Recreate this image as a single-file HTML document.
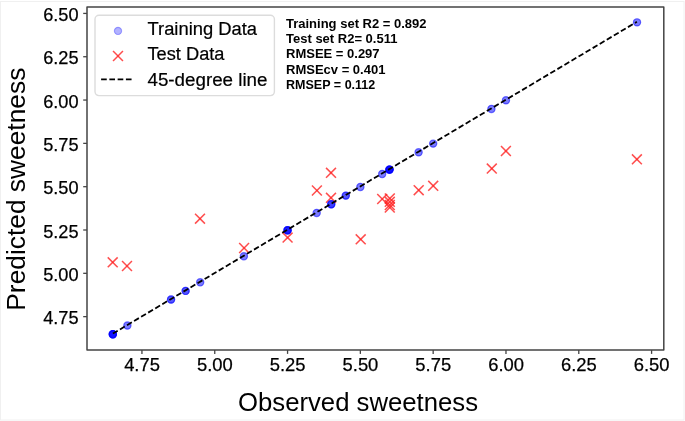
<!DOCTYPE html>
<html><head><meta charset="utf-8"><style>
html,body{margin:0;padding:0;background:#fff;}
body{width:685px;height:421px;overflow:hidden;position:relative;}
svg{position:absolute;left:0;top:0;will-change:transform;}
text{font-family:"Liberation Sans",sans-serif;}
</style></head><body>
<svg width="685" height="421" viewBox="0 0 685 421">
<rect x="0" y="0" width="685" height="421" fill="#fff"/>
<rect x="0.5" y="1.5" width="683.5" height="418.5" fill="none" stroke="#f0f0f0" stroke-width="1"/>

<g stroke="#ff2020" stroke-opacity="0.8" stroke-width="1.5" fill="none">
<path d="M107.75 257.35L117.65 267.25"/><path d="M107.75 267.25L117.65 257.35"/>
<path d="M122.05 261.05L131.95 270.95"/><path d="M122.05 270.95L131.95 261.05"/>
<path d="M195.05 213.75L204.95 223.65"/><path d="M195.05 223.65L204.95 213.75"/>
<path d="M239.15 243.05L249.05 252.95"/><path d="M239.15 252.95L249.05 243.05"/>
<path d="M282.65 232.65L292.55 242.55"/><path d="M282.65 242.55L292.55 232.65"/>
<path d="M311.95 185.55L321.85 195.45"/><path d="M311.95 195.45L321.85 185.55"/>
<path d="M326.05 167.85L335.95 177.75"/><path d="M326.05 177.75L335.95 167.85"/>
<path d="M326.05 192.85L335.95 202.75"/><path d="M326.05 202.75L335.95 192.85"/>
<path d="M355.75 234.35L365.65 244.25"/><path d="M355.75 244.25L365.65 234.35"/>
<path d="M377.25 194.05L387.15 203.95"/><path d="M377.25 203.95L387.15 194.05"/>
<path d="M384.85 193.45L394.75 203.35"/><path d="M384.85 203.35L394.75 193.45"/>
<path d="M384.85 196.85L394.75 206.75"/><path d="M384.85 206.75L394.75 196.85"/>
<path d="M384.85 200.05L394.75 209.95"/><path d="M384.85 209.95L394.75 200.05"/>
<path d="M384.85 202.55L394.75 212.45"/><path d="M384.85 212.45L394.75 202.55"/>
<path d="M413.75 185.25L423.65 195.15"/><path d="M413.75 195.15L423.65 185.25"/>
<path d="M428.25 180.85L438.15 190.75"/><path d="M428.25 190.75L438.15 180.85"/>
<path d="M486.85 163.65L496.75 173.55"/><path d="M486.85 173.55L496.75 163.65"/>
<path d="M500.95 146.05L510.85 155.95"/><path d="M500.95 155.95L510.85 146.05"/>
<path d="M631.95 154.35L641.85 164.25"/><path d="M631.95 164.25L641.85 154.35"/>
</g>
<g fill="#0000ff" fill-opacity="0.3" stroke="#0000ff" stroke-opacity="0.3" stroke-width="1.2">
<circle cx="112.82" cy="334.22" r="3.6"/>
<circle cx="112.82" cy="334.22" r="3.6"/>
<circle cx="112.82" cy="334.22" r="3.6"/>
<circle cx="112.82" cy="334.22" r="3.6"/>
<circle cx="112.82" cy="334.22" r="3.6"/>
<circle cx="112.82" cy="334.22" r="3.6"/>
<circle cx="112.82" cy="334.22" r="3.6"/>
<circle cx="127.38" cy="325.55" r="3.6"/>
<circle cx="127.38" cy="325.55" r="3.6"/>
<circle cx="171.06" cy="299.56" r="3.6"/>
<circle cx="171.06" cy="299.56" r="3.6"/>
<circle cx="171.06" cy="299.56" r="3.6"/>
<circle cx="185.62" cy="290.90" r="3.6"/>
<circle cx="185.62" cy="290.90" r="3.6"/>
<circle cx="185.62" cy="290.90" r="3.6"/>
<circle cx="200.19" cy="282.24" r="3.6"/>
<circle cx="200.19" cy="282.24" r="3.6"/>
<circle cx="243.87" cy="256.25" r="3.6"/>
<circle cx="243.87" cy="256.25" r="3.6"/>
<circle cx="287.56" cy="230.25" r="3.6"/>
<circle cx="287.56" cy="230.25" r="3.6"/>
<circle cx="287.56" cy="230.25" r="3.6"/>
<circle cx="287.56" cy="230.25" r="3.6"/>
<circle cx="287.56" cy="230.25" r="3.6"/>
<circle cx="287.56" cy="230.25" r="3.6"/>
<circle cx="316.68" cy="212.93" r="3.6"/>
<circle cx="316.68" cy="212.93" r="3.6"/>
<circle cx="331.24" cy="204.26" r="3.6"/>
<circle cx="331.24" cy="204.26" r="3.6"/>
<circle cx="331.24" cy="204.26" r="3.6"/>
<circle cx="331.24" cy="204.26" r="3.6"/>
<circle cx="345.80" cy="195.60" r="3.6"/>
<circle cx="345.80" cy="195.60" r="3.6"/>
<circle cx="345.80" cy="195.60" r="3.6"/>
<circle cx="360.36" cy="186.94" r="3.6"/>
<circle cx="360.36" cy="186.94" r="3.6"/>
<circle cx="382.20" cy="173.94" r="3.6"/>
<circle cx="382.20" cy="173.94" r="3.6"/>
<circle cx="389.49" cy="169.61" r="3.6"/>
<circle cx="389.49" cy="169.61" r="3.6"/>
<circle cx="389.49" cy="169.61" r="3.6"/>
<circle cx="389.49" cy="169.61" r="3.6"/>
<circle cx="389.49" cy="169.61" r="3.6"/>
<circle cx="389.49" cy="169.61" r="3.6"/>
<circle cx="389.49" cy="169.61" r="3.6"/>
<circle cx="389.49" cy="169.61" r="3.6"/>
<circle cx="418.61" cy="152.28" r="3.6"/>
<circle cx="418.61" cy="152.28" r="3.6"/>
<circle cx="433.17" cy="143.62" r="3.6"/>
<circle cx="433.17" cy="143.62" r="3.6"/>
<circle cx="491.42" cy="108.97" r="3.6"/>
<circle cx="491.42" cy="108.97" r="3.6"/>
<circle cx="505.98" cy="100.30" r="3.6"/>
<circle cx="505.98" cy="100.30" r="3.6"/>
<circle cx="637.03" cy="22.33" r="3.6"/>
<circle cx="637.03" cy="22.33" r="3.6"/>
</g>
<line x1="112.9" y1="333.6" x2="636.9" y2="21.8" stroke="#000" stroke-width="1.8" stroke-dasharray="5.6 2.61"/>
<rect x="87.0" y="7.1" width="576.80" height="343.00" fill="none" stroke="#444" stroke-width="1.5" stroke-linejoin="round"/>
<g stroke="#444" stroke-width="1.3">
<line x1="141.94" y1="350.1" x2="141.94" y2="353.90"/>
<line x1="83.20" y1="316.64" x2="87.0" y2="316.64"/>
<line x1="214.75" y1="350.1" x2="214.75" y2="353.90"/>
<line x1="83.20" y1="273.32" x2="87.0" y2="273.32"/>
<line x1="287.56" y1="350.1" x2="287.56" y2="353.90"/>
<line x1="83.20" y1="230.00" x2="87.0" y2="230.00"/>
<line x1="360.36" y1="350.1" x2="360.36" y2="353.90"/>
<line x1="83.20" y1="186.69" x2="87.0" y2="186.69"/>
<line x1="433.17" y1="350.1" x2="433.17" y2="353.90"/>
<line x1="83.20" y1="143.37" x2="87.0" y2="143.37"/>
<line x1="505.98" y1="350.1" x2="505.98" y2="353.90"/>
<line x1="83.20" y1="100.05" x2="87.0" y2="100.05"/>
<line x1="578.79" y1="350.1" x2="578.79" y2="353.90"/>
<line x1="83.20" y1="56.73" x2="87.0" y2="56.73"/>
<line x1="651.59" y1="350.1" x2="651.59" y2="353.90"/>
<line x1="83.20" y1="13.42" x2="87.0" y2="13.42"/>
</g>
<g font-size="18.6" fill="#000" stroke="#000" stroke-width="0.25">
<text x="142.04" y="371" text-anchor="middle" textLength="35.8" lengthAdjust="spacingAndGlyphs">4.75</text>
<text x="78.6" y="324.19" text-anchor="end" textLength="35.4" lengthAdjust="spacingAndGlyphs">4.75</text>
<text x="214.85" y="371" text-anchor="middle" textLength="35.8" lengthAdjust="spacingAndGlyphs">5.00</text>
<text x="78.6" y="280.87" text-anchor="end" textLength="35.4" lengthAdjust="spacingAndGlyphs">5.00</text>
<text x="287.66" y="371" text-anchor="middle" textLength="35.8" lengthAdjust="spacingAndGlyphs">5.25</text>
<text x="78.6" y="237.56" text-anchor="end" textLength="35.4" lengthAdjust="spacingAndGlyphs">5.25</text>
<text x="360.46" y="371" text-anchor="middle" textLength="35.8" lengthAdjust="spacingAndGlyphs">5.50</text>
<text x="78.6" y="194.24" text-anchor="end" textLength="35.4" lengthAdjust="spacingAndGlyphs">5.50</text>
<text x="433.27" y="371" text-anchor="middle" textLength="35.8" lengthAdjust="spacingAndGlyphs">5.75</text>
<text x="78.6" y="150.92" text-anchor="end" textLength="35.4" lengthAdjust="spacingAndGlyphs">5.75</text>
<text x="506.08" y="371" text-anchor="middle" textLength="35.8" lengthAdjust="spacingAndGlyphs">6.00</text>
<text x="78.6" y="107.60" text-anchor="end" textLength="35.4" lengthAdjust="spacingAndGlyphs">6.00</text>
<text x="578.89" y="371" text-anchor="middle" textLength="35.8" lengthAdjust="spacingAndGlyphs">6.25</text>
<text x="78.6" y="64.28" text-anchor="end" textLength="35.4" lengthAdjust="spacingAndGlyphs">6.25</text>
<text x="651.69" y="371" text-anchor="middle" textLength="35.8" lengthAdjust="spacingAndGlyphs">6.50</text>
<text x="78.6" y="20.97" text-anchor="end" textLength="35.4" lengthAdjust="spacingAndGlyphs">6.50</text>
</g>
<rect x="95.0" y="15.3" width="179.4" height="80.3" rx="4" ry="4" fill="#fff" fill-opacity="0.8" stroke="#dcdcdc" stroke-width="1.4"/>
<circle cx="118" cy="30.9" r="3.6" fill="#0000ff" fill-opacity="0.3" stroke="#0000ff" stroke-opacity="0.3" stroke-width="1.2"/>
<g stroke="#ff2020" stroke-opacity="0.8" stroke-width="1.5" fill="none"><path d="M113.05 51.05L122.95 60.95"/><path d="M113.05 60.95L122.95 51.05"/></g>
<line x1="101.1" y1="79.4" x2="131.6" y2="79.4" stroke="#000" stroke-width="1.8" stroke-dasharray="5.65 2.62"/>
<g font-size="18" fill="#000" stroke="#000" stroke-width="0.2">
<text x="147.5" y="35" textLength="109.5" lengthAdjust="spacingAndGlyphs">Training Data</text>
<text x="147.5" y="60" textLength="77" lengthAdjust="spacingAndGlyphs">Test Data</text>
<text x="147.5" y="85.8" textLength="120" lengthAdjust="spacingAndGlyphs">45-degree line</text>
</g>
<g font-size="13" font-weight="bold" fill="#000">
<text x="286" y="28.20">Training set R2 = 0.892</text>
<text x="286" y="43.20">Test set R2= 0.511</text>
<text x="286" y="58.30">RMSEE = 0.297</text>
<text x="286" y="73.60">RMSEcv = 0.401</text>
<text x="286" y="88.80" textLength="89.3" lengthAdjust="spacingAndGlyphs">RMSEP = 0.112</text>
</g>
<text x="238" y="411.0" font-size="26" fill="#000" textLength="240" lengthAdjust="spacingAndGlyphs">Observed sweetness</text>
<text transform="translate(24.8 310.7) rotate(-90)" font-size="26" fill="#000" textLength="243" lengthAdjust="spacingAndGlyphs">Predicted sweetness</text>
</svg></body></html>
